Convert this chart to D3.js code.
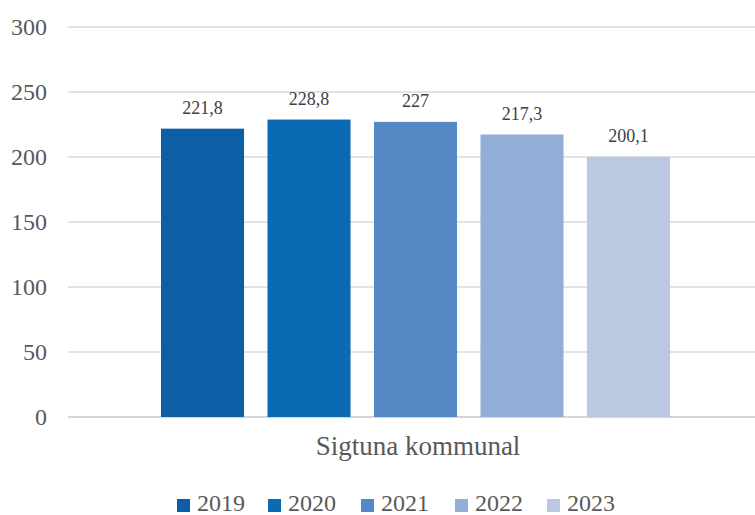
<!DOCTYPE html>
<html>
<head>
<meta charset="utf-8">
<script src="https://cdn.jsdelivr.net/npm/d3@7"></script>
<style>
  body { margin: 0; background: #fff; }
  svg { display: block; }
  text { font-family: "Liberation Serif", "Times New Roman", serif; }
</style>
</head>
<body>
<svg id="chart" width="755" height="515"></svg>
<script>
// data
var years = ["2019", "2020", "2021", "2022", "2023"];
var values = [221.8, 228.8, 227, 217.3, 200.1];
var labels = ["221,8", "228,8", "227", "217,3", "200,1"];
var colors = ["#0c5ea5", "#0a6ab3", "#5589c6", "#93aed6", "#bac8e2"];
var yTicks = [0, 50, 100, 150, 200, 250, 300];
var category = "Sigtuna kommunal";

var svg = d3.select("#chart");

var ys = d3.scaleLinear().domain([0, 300]).range([417, 27]);
var xs = d3.scaleBand().domain(years).range([161, 670]).paddingInner(0.22).paddingOuter(0);

// gridlines
svg.append("g")
  .selectAll("line")
  .data(yTicks)
  .enter().append("line")
  .attr("x1", 68)
  .attr("x2", 755)
  .attr("y1", function(d) { return ys(d); })
  .attr("y2", function(d) { return ys(d); })
  .attr("stroke", function(d) { return d === 0 ? "#c8c8c8" : "#dadada"; })
  .attr("stroke-width", 1.5);

// y tick labels
svg.append("g")
  .selectAll("text")
  .data(yTicks)
  .enter().append("text")
  .attr("x", 47)
  .attr("y", function(d) { return ys(d); })
  .attr("dy", "0.33em")
  .attr("text-anchor", "end")
  .style("font-size", "24px")
  .attr("fill", "#595959")
  .text(function(d) { return d; });

// bars
svg.append("g")
  .selectAll("rect")
  .data(values)
  .enter().append("rect")
  .attr("x", function(d, i) { return xs(years[i]); })
  .attr("y", function(d) { return ys(d); })
  .attr("width", xs.bandwidth())
  .attr("height", function(d) { return ys(0) - ys(d); })
  .attr("fill", function(d, i) { return colors[i]; });

// value labels
svg.append("g")
  .selectAll("text")
  .data(values)
  .enter().append("text")
  .attr("x", function(d, i) { return xs(years[i]) + xs.bandwidth() / 2; })
  .attr("y", function(d) { return ys(d) - 15; })
  .attr("text-anchor", "middle")
  .style("font-size", "18px")
  .attr("fill", "#404040")
  .text(function(d, i) { return labels[i]; });

// category label
svg.append("text")
  .attr("x", 418)
  .attr("y", 455)
  .attr("text-anchor", "middle")
  .style("font-size", "27px")
  .attr("fill", "#595959")
  .text(category);

// legend
var legendX = [177, 268, 361, 455, 547];
var lg = svg.append("g")
  .selectAll("g")
  .data(years)
  .enter().append("g")
  .attr("transform", function(d, i) { return "translate(" + legendX[i] + ",0)"; });
lg.append("rect")
  .attr("x", 0)
  .attr("y", 499)
  .attr("width", 13)
  .attr("height", 13)
  .attr("fill", function(d, i) { return colors[i]; });
lg.append("text")
  .attr("x", 20)
  .attr("y", 511)
  .style("font-size", "24px")
  .attr("fill", "#595959")
  .text(function(d) { return d; });
</script>
</body>
</html>
